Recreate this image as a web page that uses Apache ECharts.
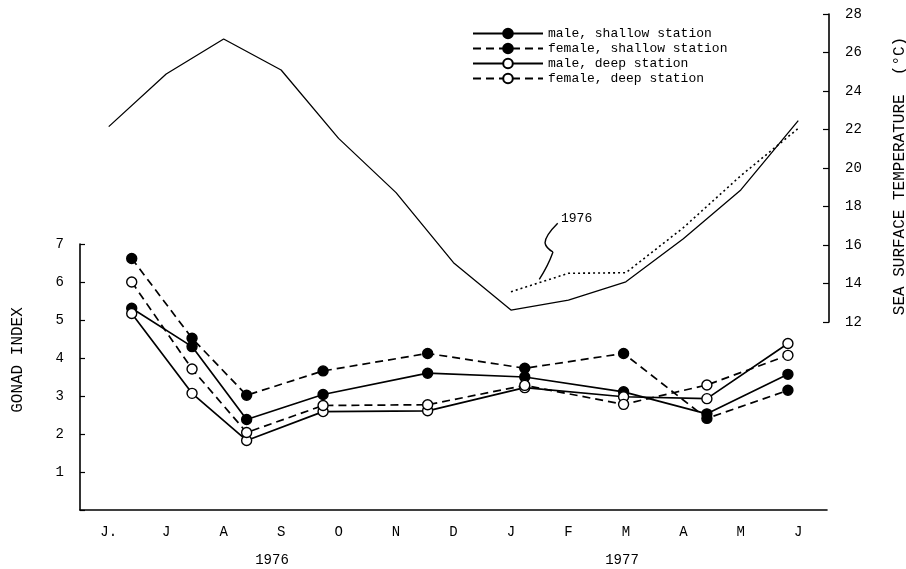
<!DOCTYPE html>
<html>
<head>
<meta charset="utf-8">
<script src="https://cdn.jsdelivr.net/npm/echarts@6/dist/echarts.min.js"></script>
<style>html,body{margin:0;padding:0;background:#fff;}#c{width:906px;height:569px;}</style>
</head>
<body>
<div id="c"></div>
<script>
// Month categories (x axis) and year captions
var months = ['J.', 'J', 'A', 'S', 'O', 'N', 'D', 'J', 'F', 'M', 'A', 'M', 'J'];
var years = ['1976', '1977'];
// Sampling dates in month units (0 = start of first month)
var sampleX = [0.90, 1.95, 2.90, 4.23, 6.05, 7.74, 9.46, 10.91, 12.32];
// Gonad index series
var maleShallow   = [5.31, 4.30, 2.38, 3.04, 3.60, 3.50, 3.11, 2.53, 3.57];
var femaleShallow = [6.62, 4.52, 3.02, 3.66, 4.12, 3.73, 4.12, 2.41, 3.15];
var maleDeep      = [5.17, 3.07, 1.83, 2.59, 2.61, 3.22, 2.98, 2.93, 4.38];
var femaleDeep    = [6.00, 3.71, 2.04, 2.75, 2.77, 3.28, 2.78, 3.29, 4.07];
// Sea surface temperature (monthly) and 1976 comparison
var seaTemp     = [22.15, 24.88, 26.70, 25.09, 21.54, 18.72, 15.08, 12.62, 13.14, 14.09, 16.33, 18.86, 22.46];
var seaTemp1976 = [null, null, null, null, null, null, null, 13.57, 14.53, 14.56, 16.9, 19.6, 22.06];
var seriesNames = ['male, shallow station', 'female, shallow station', 'male, deep station', 'female, deep station'];

var FONT = '"Liberation Mono", "DejaVu Sans Mono", monospace';
function pairs(ys) { return ys.map(function (v, i) { return [sampleX[i], v]; }); }

var chart = echarts.init(document.getElementById('c'), null, { renderer: 'canvas' });

function gonadSeries(name, ys, filled, dashed) {
  return {
    name: name, type: 'line', xAxisIndex: 1, yAxisIndex: 0,
    data: pairs(ys),
    symbol: 'circle', symbolSize: 10,
    lineStyle: { color: '#000', width: 1.7, type: dashed ? [8, 5] : 'solid' },
    itemStyle: { color: filled ? '#000' : '#fff', borderColor: '#000', borderWidth: 1.4 },
    z: filled ? 4 : 5,
    animation: false
  };
}

var leaderStyle = { fill: 'none', stroke: '#000', lineWidth: 1.4 };

chart.setOption({
  backgroundColor: '#fff',
  animation: false,
  textStyle: { fontFamily: FONT, color: '#000' },
  grid: [
    { left: 80, right: 79, top: 244, bottom: 59 },
    { left: 80, right: 79, top: 14, bottom: 247 }
  ],
  legend: {
    data: seriesNames,
    orient: 'vertical',
    left: 472, top: 26,
    padding: 0,
    itemGap: 0,
    itemWidth: 70, itemHeight: 12,
    textStyle: { fontFamily: FONT, fontSize: 13, color: '#000', lineHeight: 15 }
  },
  xAxis: [
    {
      type: 'category', gridIndex: 0, data: months, boundaryGap: true,
      axisLine: { lineStyle: { color: '#000', width: 1.6 } },
      axisTick: { inside: true, length: 5, lineStyle: { color: '#000', width: 1.2 } },
      axisLabel: { color: '#000', fontFamily: FONT, fontSize: 14, margin: 15 },
      splitLine: { show: false }
    },
    { type: 'value', gridIndex: 0, min: 0, max: 13, show: false },
    { type: 'category', gridIndex: 1, data: months, boundaryGap: true, show: false }
  ],
  yAxis: [
    {
      type: 'value', gridIndex: 0, min: 0, max: 7, interval: 1,
      axisLine: { show: true, lineStyle: { color: '#000', width: 1.6 } },
      axisTick: { show: true, inside: true, length: 5, lineStyle: { color: '#000', width: 1.2 } },
      axisLabel: { color: '#000', fontFamily: FONT, fontSize: 14, margin: 16,
        formatter: function (v) { return v === 0 ? '' : String(v); } },
      splitLine: { show: false }
    },
    {
      type: 'value', gridIndex: 1, position: 'right', offset: 2, min: 12, max: 28, interval: 2,
      axisLine: { show: true, lineStyle: { color: '#000', width: 1.6 } },
      axisTick: { show: true, inside: true, length: 6, lineStyle: { color: '#000', width: 1.2 } },
      axisLabel: { color: '#000', fontFamily: FONT, fontSize: 14, margin: 16 },
      splitLine: { show: false }
    }
  ],
  series: [
    gonadSeries(seriesNames[0], maleShallow, true, false),
    gonadSeries(seriesNames[1], femaleShallow, true, true),
    gonadSeries(seriesNames[2], maleDeep, false, false),
    gonadSeries(seriesNames[3], femaleDeep, false, true),
    {
      name: 'temperature', type: 'line', xAxisIndex: 2, yAxisIndex: 1,
      data: seaTemp, showSymbol: false, symbol: 'none',
      lineStyle: { color: '#000', width: 1.3 }, z: 2
    },
    {
      name: 'temperature 1976', type: 'line', xAxisIndex: 2, yAxisIndex: 1,
      data: seaTemp1976, showSymbol: false, symbol: 'none',
      lineStyle: { color: '#000', width: 1.6, type: [2, 3] }, z: 2
    }
  ],
  graphic: [
    { type: 'text', x: 18, y: 360, rotation: Math.PI / 2,
      style: { text: 'GONAD INDEX', font: '16px ' + FONT, fill: '#000', align: 'center', verticalAlign: 'middle' } },
    { type: 'text', x: 900, y: 176, rotation: Math.PI / 2,
      style: { text: 'SEA SURFACE TEMPERATURE  (°C)', font: '16px ' + FONT, fill: '#000', align: 'center', verticalAlign: 'middle' } },
    { type: 'text', x: 272, y: 560,
      style: { text: years[0], font: '14px ' + FONT, fill: '#000', align: 'center', verticalAlign: 'middle' } },
    { type: 'text', x: 622, y: 560,
      style: { text: years[1], font: '14px ' + FONT, fill: '#000', align: 'center', verticalAlign: 'middle' } },
    { type: 'text', x: 561, y: 219,
      style: { text: '1976', font: '13px ' + FONT, fill: '#000', align: 'left', verticalAlign: 'middle' } },
    { type: 'bezierCurve',
      shape: { x1: 557.7, y1: 223.3, cpx1: 545, cpy1: 236, x2: 545, y2: 243 }, style: leaderStyle },
    { type: 'bezierCurve',
      shape: { x1: 545, y1: 243, cpx1: 546, cpy1: 248, x2: 553, y2: 252 }, style: leaderStyle },
    { type: 'bezierCurve',
      shape: { x1: 553, y1: 252, cpx1: 548, cpy1: 266, x2: 539.3, y2: 279.3 }, style: leaderStyle }
  ]
});
</script>
</body>
</html>
